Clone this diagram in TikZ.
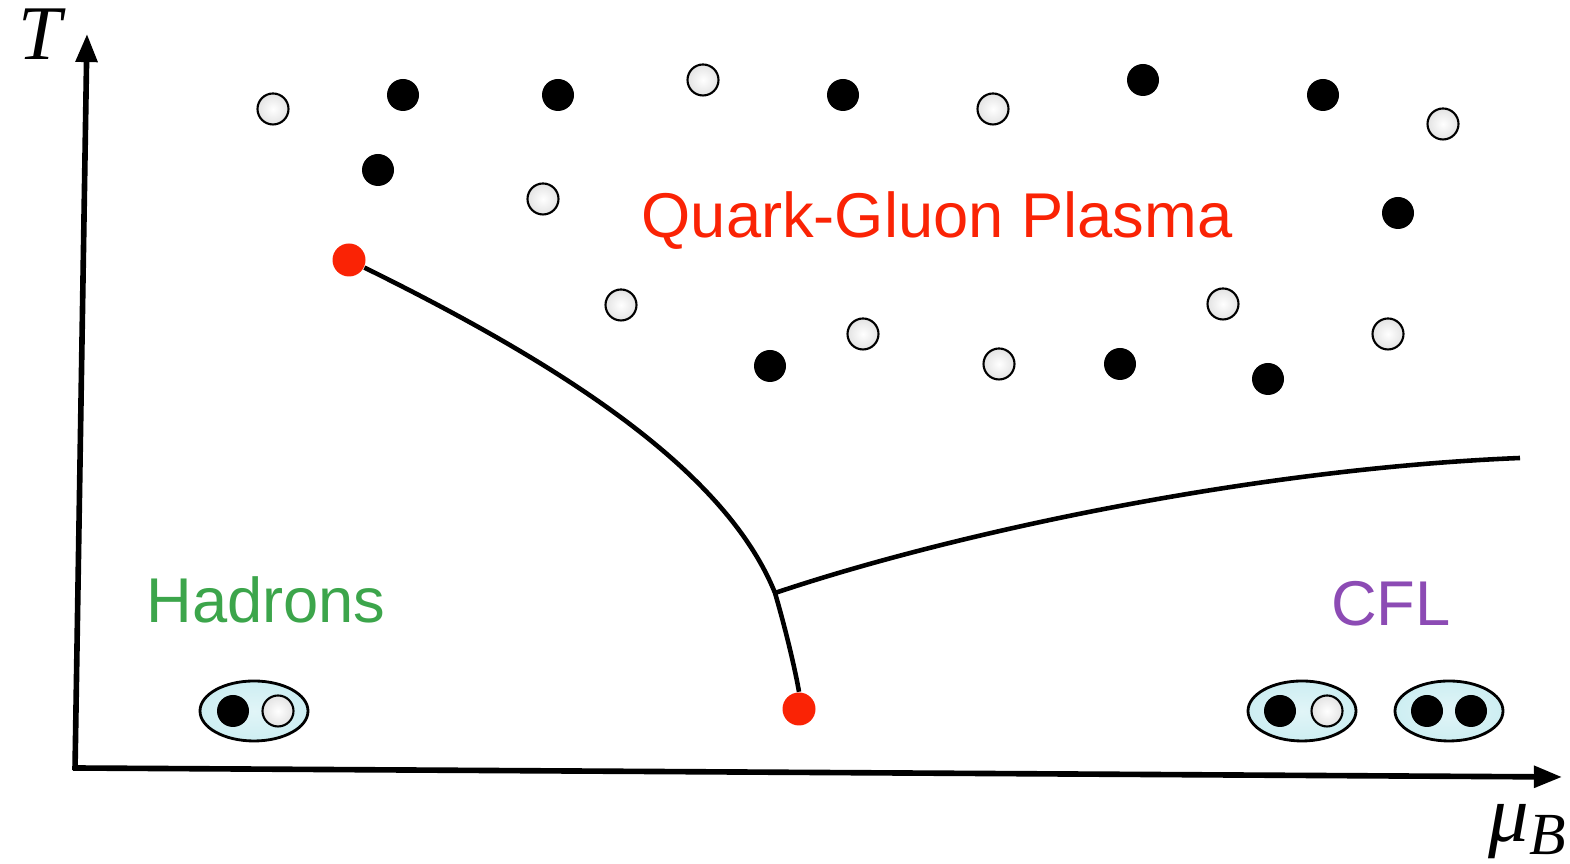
\documentclass[tikz,border=0pt]{standalone}
\usepackage{amsmath,amssymb}
\usepackage{fontspec}
\setmainfont{Liberation Sans}
\newfontfamily\tmsfont{Liberation Serif}
\usetikzlibrary{arrows.meta,shapes.geometric}

\definecolor{qgpred}{RGB}{250,35,5}
\definecolor{hadgreen}{RGB}{60,165,75}
\definecolor{cflpurple}{RGB}{140,75,180}
\definecolor{pairfill}{RGB}{205,238,242}

\begin{document}
\begin{tikzpicture}
        \tikzset{quark/.style = {circle, fill = black, inner sep = 0pt, minimum size = 0.32cm},
        antiquark/.style = {circle, draw = black, line width = 0.6pt, inner sep = 0pt,
                minimum size = 0.31cm, inner color = white, outer color = gray!22},
        endpt/.style = {circle, fill = qgpred, inner sep = 0pt, minimum size = 0.33cm},
        pair/.style = {ellipse, draw = black, line width = 0.8pt, inner sep = 0pt,
                minimum width = 1.08cm, minimum height = 0.6cm,
                inner color = pairfill!60, outer color = pairfill},
        axis/.style = {line width = 1.6pt, -{Triangle[length = 8pt, width = 6pt]}},
        phaseline/.style = {line width = 1.3pt},
        phase/.style = {anchor = base, font = \fontsize{18}{22}\selectfont}}
        \useasboundingbox (0,0) rectangle (15.70,8.64);
        % axes
        \coordinate (O1) at (0.75,0.94);
        \coordinate (Ttip) at (0.87,8.30);
        \coordinate (O2) at (0.73,0.96);
        \coordinate (Mtip) at (15.62,0.87);
        \draw[axis] (O1) -- (Ttip);
        \draw[axis] (O2) -- (Mtip);
        \node[anchor = base, inner sep = 0pt, text height = 0.5cm] (T) at (0.40,8.04)
                {\tmsfont\itshape\fontsize{22}{24}\selectfont T};
        \node[anchor = base] (muB) at (15.27,0.22) {\tmsfont\itshape\fontsize{23}{24}\selectfont
                μ\raisebox{-0.35ex}{\fontsize{17}{18}\selectfont B}};
        % plasma
        \foreach \x/\y [count = \i] in {2.73/7.55, 7.03/7.84, 9.93/7.55, 14.43/7.40, 5.43/6.65,
                6.21/5.59, 8.63/5.30, 9.99/5.00, 12.23/5.60, 13.88/5.30}
                \node[antiquark] (a\i) at (\x,\y) {};
        \foreach \x/\y [count = \i] in {4.03/7.69, 5.58/7.69, 8.43/7.69, 11.43/7.84, 13.23/7.69,
                3.78/6.94, 13.98/6.51, 7.70/4.98, 11.20/5.00, 12.68/4.85}
                \node[quark] (q\i) at (\x,\y) {};
        % phase boundaries
        \node[endpt] (A) at (3.49,6.04) {};
        \node[endpt] (B) at (7.99,1.55) {};
        \coordinate (J) at (7.75,2.71);
        \coordinate (E) at (15.20,4.06);
        \draw[phaseline] (A) .. controls (5.6,5.0) and (7.25,3.95) .. (J)
                .. controls (7.87,2.30) and (7.96,1.90) .. (B.north);
        \draw[phaseline] (J) .. controls (9.5,3.30) and (12.5,3.95) .. (E);
        % labels
        \node[phase, text = qgpred] (QGP) at (9.37,6.26) {Quark-Gluon Plasma};
        \node[phase, text = hadgreen] (H) at (2.66,2.41) {Hadrons};
        \node[phase, text = cflpurple] (C) at (13.91,2.38) {CFL};
        % pairs
        \node[pair] (P1) at (2.54,1.53) {};
        \node[quark] (P1q) at (2.33,1.53) {};
        \node[antiquark] (P1a) at (2.78,1.53) {};
        \node[pair] (P2) at (13.02,1.53) {};
        \node[quark] (P2q) at (12.80,1.53) {};
        \node[antiquark] (P2a) at (13.27,1.53) {};
        \node[pair] (P3) at (14.49,1.53) {};
        \node[quark] (P3q) at (14.27,1.53) {};
        \node[quark] (P3r) at (14.71,1.53) {};
    \end{tikzpicture}
\end{document}
